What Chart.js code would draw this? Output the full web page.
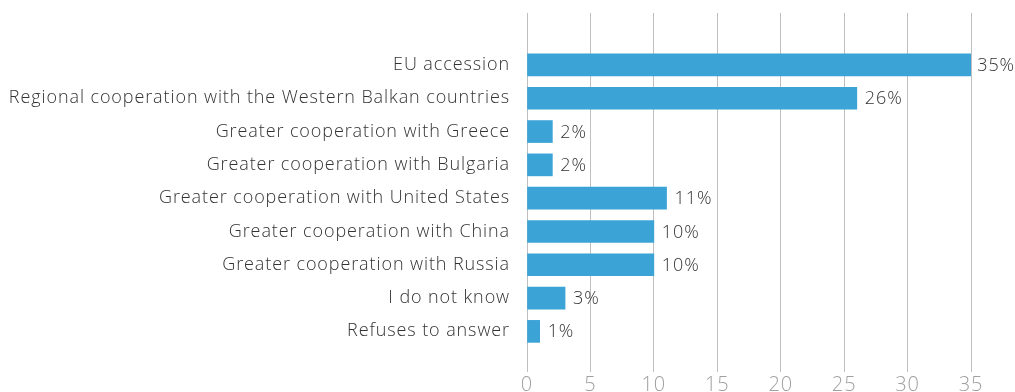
<!DOCTYPE html>
<html>
<head>
<meta charset="utf-8">
<script src="https://cdn.jsdelivr.net/npm/chart.js@4/dist/chart.umd.min.js"></script>
<style>
  html, body { margin: 0; padding: 0; background: #fff; }
  #wrap { width: 1015px; height: 392px; position: relative; }
</style>
</head>
<body>
<div id="wrap"><canvas id="chart"></canvas></div>
<script>
const categories = [
  "EU accession",
  "Regional cooperation with the Western Balkan countries",
  "Greater cooperation with Greece",
  "Greater cooperation with Bulgaria",
  "Greater cooperation with United States",
  "Greater cooperation with China",
  "Greater cooperation with Russia",
  "I do not know",
  "Refuses to answer"
];
const shares = [35, 26, 2, 2, 11, 10, 10, 3, 1];
const xTicks = [0, 5, 10, 15, 20, 25, 30, 35];

const FONT = "'Open Sans', Roboto, sans-serif";
const SPACING = "0.9px";

// slightly tracked-out text everywhere on the canvas
const tracking = {
  id: "tracking",
  beforeDraw(chart) { chart.ctx.letterSpacing = SPACING; }
};

// percent labels just past the end of each bar
const valueLabels = {
  id: "valueLabels",
  afterDatasetsDraw(chart) {
    const ctx = chart.ctx;
    const meta = chart.getDatasetMeta(0);
    ctx.save();
    ctx.letterSpacing = SPACING;
    ctx.font = "300 18px " + FONT;
    ctx.fillStyle = "#333333";
    ctx.textBaseline = "middle";
    meta.data.forEach((bar, i) => {
      const text = shares[i] + "%";
      const w = ctx.measureText(text).width;
      const x = Math.min(bar.x + 8, chart.width - w);
      ctx.fillText(text, x, bar.y + 1);
    });
    ctx.restore();
  }
};

new Chart(document.getElementById("chart"), {
  type: "bar",
  data: {
    datasets: [{
      data: shares.map((v, i) => ({ x: v, y: i })),
      backgroundColor: "#3ba3d6",
      barThickness: 22
    }]
  },
  options: {
    indexAxis: "y",
    responsive: true,
    maintainAspectRatio: false,
    animation: false,
    layout: { padding: { top: 13, right: 44, left: 0, bottom: 0 } },
    plugins: { legend: { display: false }, tooltip: { enabled: false } },
    scales: {
      x: {
        type: "linear",
        min: 0,
        max: 35,
        afterBuildTicks: s => { s.ticks = xTicks.map(v => ({ value: v })); },
        afterFit: s => { s.height = 20; s.paddingLeft = 0; s.paddingRight = 0; },
        grid: { color: "#bfbfbf", lineWidth: 1, drawTicks: false },
        border: { display: false },
        ticks: { color: "#a0a0a0", font: { family: FONT, size: 20, weight: 300 }, padding: 1 }
      },
      y: {
        type: "linear",
        bounds: "data",
        offset: false,
        reverse: true,
        min: -1.56,
        max: 9.22,
        afterBuildTicks: s => { s.ticks = categories.map((c, i) => ({ value: i })); },
        afterFit: s => { s.width = 527; s.paddingTop = 0; s.paddingBottom = 0; },
        grid: { display: false, drawTicks: false, tickLength: 0 },
        border: { display: false },
        ticks: {
          color: "#333333",
          font: { family: FONT, size: 18, weight: 300 },
          padding: 17,
          callback: v => categories[v]
        }
      }
    }
  },
  plugins: [tracking, valueLabels]
});
</script>
</body>
</html>
